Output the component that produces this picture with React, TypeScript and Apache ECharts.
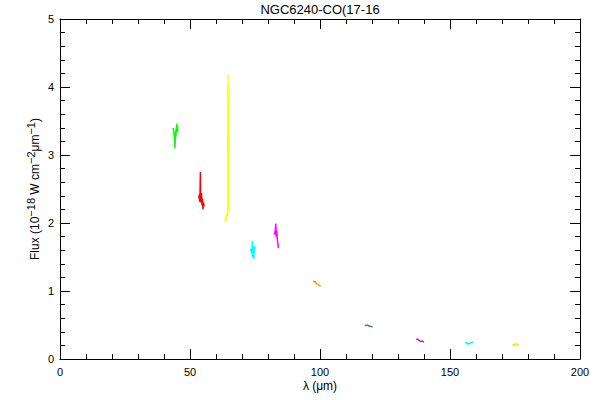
import React, { useEffect, useRef } from "react";
import * as echarts from "echarts";

const titleText = "NGC6240-CO(17-16";
const xName = "λ (μm)";

// Spectral segments: [wavelength (µm), flux (1e-18 W cm^-2 µm^-1)]
const seg45: [number, number][] = [
  [43.5, 3.40], [43.7, 3.35], [43.9, 3.30], [44.1, 3.22], [44.2, 3.10], [44.3, 3.20],
  [44.4, 3.30], [44.5, 3.36], [44.6, 3.28], [44.7, 3.40], [44.8, 3.33], [44.9, 3.46],
  [45.0, 3.36], [45.1, 3.42], [45.3, 3.34],
];
const seg54: [number, number][] = [
  [53.4, 2.36], [53.6, 2.42], [53.8, 2.31], [54.0, 2.75], [54.05, 2.48], [54.2, 2.30],
  [54.4, 2.44], [54.6, 2.26], [54.8, 2.36], [55.0, 2.20], [55.2, 2.30], [55.4, 2.24],
];
const seg64: [number, number][] = [
  [63.5, 2.01], [63.7, 2.08], [63.9, 2.04], [64.1, 2.14], [64.3, 2.10], [64.5, 2.16],
  [64.6, 4.18], [64.65, 3.78], [64.7, 4.00], [64.8, 2.18],
];
const seg74: [number, number][] = [
  [73.2, 1.58], [73.5, 1.62], [73.8, 1.55], [74.0, 1.74], [74.1, 1.50], [74.3, 1.65],
  [74.5, 1.47], [74.7, 1.60], [74.9, 1.66],
];
const seg83: [number, number][] = [
  [82.4, 1.86], [82.6, 1.83], [82.8, 1.90], [83.0, 1.99], [83.2, 1.80], [83.4, 1.88],
  [83.6, 1.75], [83.8, 1.70], [84.0, 1.63],
];
const seg98: [number, number][] = [
  [97.4, 1.15], [97.8, 1.13], [98.2, 1.14], [98.6, 1.11], [99.0, 1.10], [99.4, 1.09],
  [99.8, 1.08], [100.3, 1.07],
];
const seg118: [number, number][] = [
  [117.2, 0.50], [117.8, 0.49], [118.4, 0.50], [119.0, 0.48], [119.6, 0.48], [120.2, 0.47],
];
const seg138: [number, number][] = [
  [137.0, 0.29], [137.6, 0.29], [138.2, 0.27], [138.8, 0.26], [139.4, 0.26], [140.0, 0.25],
];
const seg157: [number, number][] = [
  [156.0, 0.25], [156.5, 0.23], [157.0, 0.22], [157.6, 0.23], [158.2, 0.24], [158.8, 0.25],
];
const seg175: [number, number][] = [
  [174.0, 0.19], [174.4, 0.21], [174.8, 0.20], [175.2, 0.23], [175.6, 0.21], [176.0, 0.22],
  [176.4, 0.19],
];

const segments = [seg45, seg54, seg64, seg74, seg83, seg98, seg118, seg138, seg157, seg175];
const segmentColors = [
  "#00ff00", "#ff0000", "#ffff00", "#00ffff", "#ff00ff",
  "#ff9900", "#4a7db5", "#ff0088", "#00ffbb", "#ccff00",
];

const FONT = "Liberation Sans";

export default function App() {
  const ref = useRef<HTMLDivElement>(null);
  useEffect(() => {
    if (!ref.current) return;
    const chart = echarts.init(ref.current, undefined, { renderer: "svg" });
    const axisLine = { show: true, onZero: false, lineStyle: { color: "#000", width: 1 } };
    const baseX = {
      type: "value" as const,
      min: 0,
      max: 200,
      interval: 50,
      axisLine,
      splitLine: { show: false },
      axisTick: { show: true, inside: true, length: 10, lineStyle: { color: "#000" } },
      minorTick: { show: true, splitNumber: 5, length: 5, lineStyle: { color: "#000" } },
    };
    const baseY = {
      type: "value" as const,
      min: 0,
      max: 5,
      interval: 1,
      axisLine,
      splitLine: { show: false },
      axisTick: { show: true, inside: true, length: 10, lineStyle: { color: "#000" } },
      minorTick: { show: true, splitNumber: 5, length: 5, lineStyle: { color: "#000" } },
    };
    chart.setOption({
      animation: false,
      backgroundColor: "#fff",
      title: {
        text: titleText,
        left: 320,
        top: 3,
        padding: 0,
        textAlign: "center",
        textStyle: { fontFamily: FONT, fontSize: 13, fontWeight: "normal", color: "#000" },
      },
      grid: { left: 60, right: 20, top: 19, bottom: 41, containLabel: false },
      xAxis: [
        {
          ...baseX,
          position: "bottom",
          name: xName,
          nameLocation: "middle",
          nameGap: 21,
          nameMoveOverlap: false,
          nameTextStyle: { fontFamily: FONT, fontSize: 12, color: "#000" },
          axisLabel: { show: true, margin: 7, fontFamily: FONT, fontSize: 11, color: "#000" },
        },
        {
          ...baseX,
          position: "top",
          axisLabel: { show: false },
        },
      ],
      yAxis: [
        {
          ...baseY,
          position: "left",
          name: "Flux (10{sup|−18} W cm{sup|−2}μm{sup|−1})",
          nameLocation: "middle",
          nameGap: 15,
          nameRotate: 90,
          nameMoveOverlap: false,
          nameTextStyle: {
            fontFamily: FONT,
            fontSize: 12,
            color: "#000",
            lineHeight: 20,
            verticalAlign: "bottom",
            rich: {
              sup: { fontFamily: FONT, fontSize: 11, color: "#000", lineHeight: 11, verticalAlign: "top" },
            },
          },
          axisLabel: { show: true, margin: 6, fontFamily: FONT, fontSize: 11, color: "#000" },
        },
        {
          ...baseY,
          position: "right",
          axisLabel: { show: false },
        },
      ],
      series: segments.map((d, i) => ({
        type: "line",
        data: d,
        xAxisIndex: 0,
        yAxisIndex: 0,
        showSymbol: false,
        symbol: "none",
        lineStyle: { color: segmentColors[i], width: 1.5 },
        itemStyle: { color: segmentColors[i] },
      })),
    });
    return () => chart.dispose();
  }, []);
  return (
    <div
      ref={ref}
      style={{ position: "fixed", left: 0, top: 0, width: 600, height: 400, background: "#fff" }}
    />
  );
}
